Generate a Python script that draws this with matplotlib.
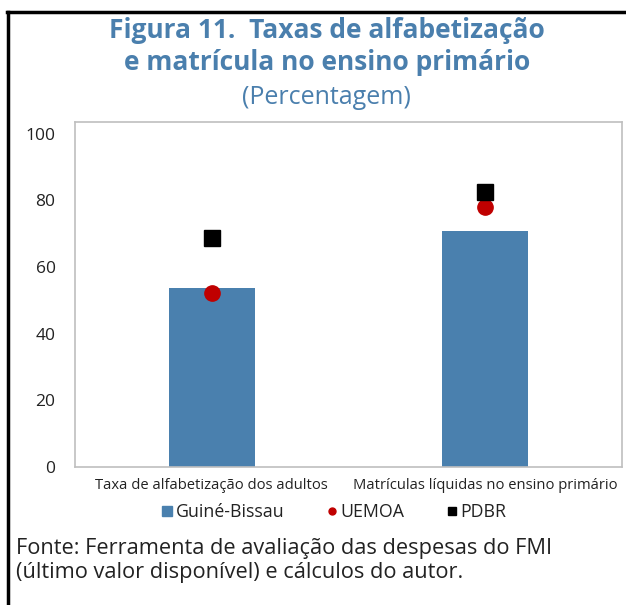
import matplotlib.pyplot as plt
from matplotlib.lines import Line2D
import numpy as np

plt.rcParams['font.family'] = ['Open Sans', 'DejaVu Sans']

categories = ['Taxa de alfabetização dos adultos', 'Matrículas líquidas no ensino primário']
guine_bissau = [53.6, 70.9]
uemoa = [52.1, 78.1]
pdbr = [68.7, 82.5]

blue = '#4a80ae'
red = '#c00000'
title_color = '#4a7fad'

fig = plt.figure(figsize=(6.26, 6.05), dpi=100)
ax = fig.add_axes([0.1198, 0.2281, 0.8738, 0.5702])

x = np.arange(len(categories))
ax.bar(x, guine_bissau, width=0.314, color=blue, zorder=2)
ax.plot(x, uemoa, 'o', color=red, markersize=11, zorder=3)
ax.plot(x, pdbr, 's', color='black', markersize=11.5, zorder=3)

ax.set_xlim(-0.5, 1.5)
ax.set_ylim(0, 103.5)
ax.set_yticks([0, 20, 40, 60, 80, 100])
ax.set_xticks(x)
ax.set_xticklabels(categories, fontsize=10.6, color='#222222')
ax.tick_params(axis='y', labelsize=12.5, colors='#222222', length=0, pad=14)
ax.tick_params(axis='x', length=0, pad=8)
for s in ax.spines.values():
    s.set_color('#bfbfbf')
    s.set_linewidth(1.2)

# titles
fig.text(0.522, 0.950, 'Figura 11.  Taxas de alfabetização', ha='center', va='center',
         fontsize=19, fontweight='bold', color=title_color)
fig.text(0.522, 0.897, 'e matrícula no ensino primário', ha='center', va='center',
         fontsize=19, fontweight='bold', color=title_color)
fig.text(0.522, 0.839, '(Percentagem)', ha='center', va='center',
         fontsize=18, color=title_color)

# legend
handles = [
    Line2D([], [], marker='s', linestyle='none', color=blue, markersize=7),
    Line2D([], [], marker='o', linestyle='none', color=red, markersize=5),
    Line2D([], [], marker='s', linestyle='none', color='black', markersize=5.5),
]
fig.legend(handles, ['Guiné-Bissau', 'UEMOA', 'PDBR'], loc='center', bbox_to_anchor=(0.531, 0.153),
           ncol=3, frameon=False, fontsize=12.8, handletextpad=0.0, columnspacing=2.15,
           handlelength=1.0, labelcolor='#222222')

# source note
fig.text(0.025, 0.094, 'Fonte: Ferramenta de avaliação das despesas do FMI', ha='left', va='center',
         fontsize=15.7, color='#222222')
fig.text(0.025, 0.053, '(último valor disponível) e cálculos do autor.', ha='left', va='center',
         fontsize=15.7, color='#222222')

# outer box lines
fig.add_artist(Line2D([0.0125, 0.0125], [0.0, 0.980], transform=fig.transFigure, color='black', linewidth=2.5))
fig.add_artist(Line2D([0.0105, 1.0], [0.980, 0.980], transform=fig.transFigure, color='black', linewidth=2.5))

fig.savefig('out.png', dpi=100)
